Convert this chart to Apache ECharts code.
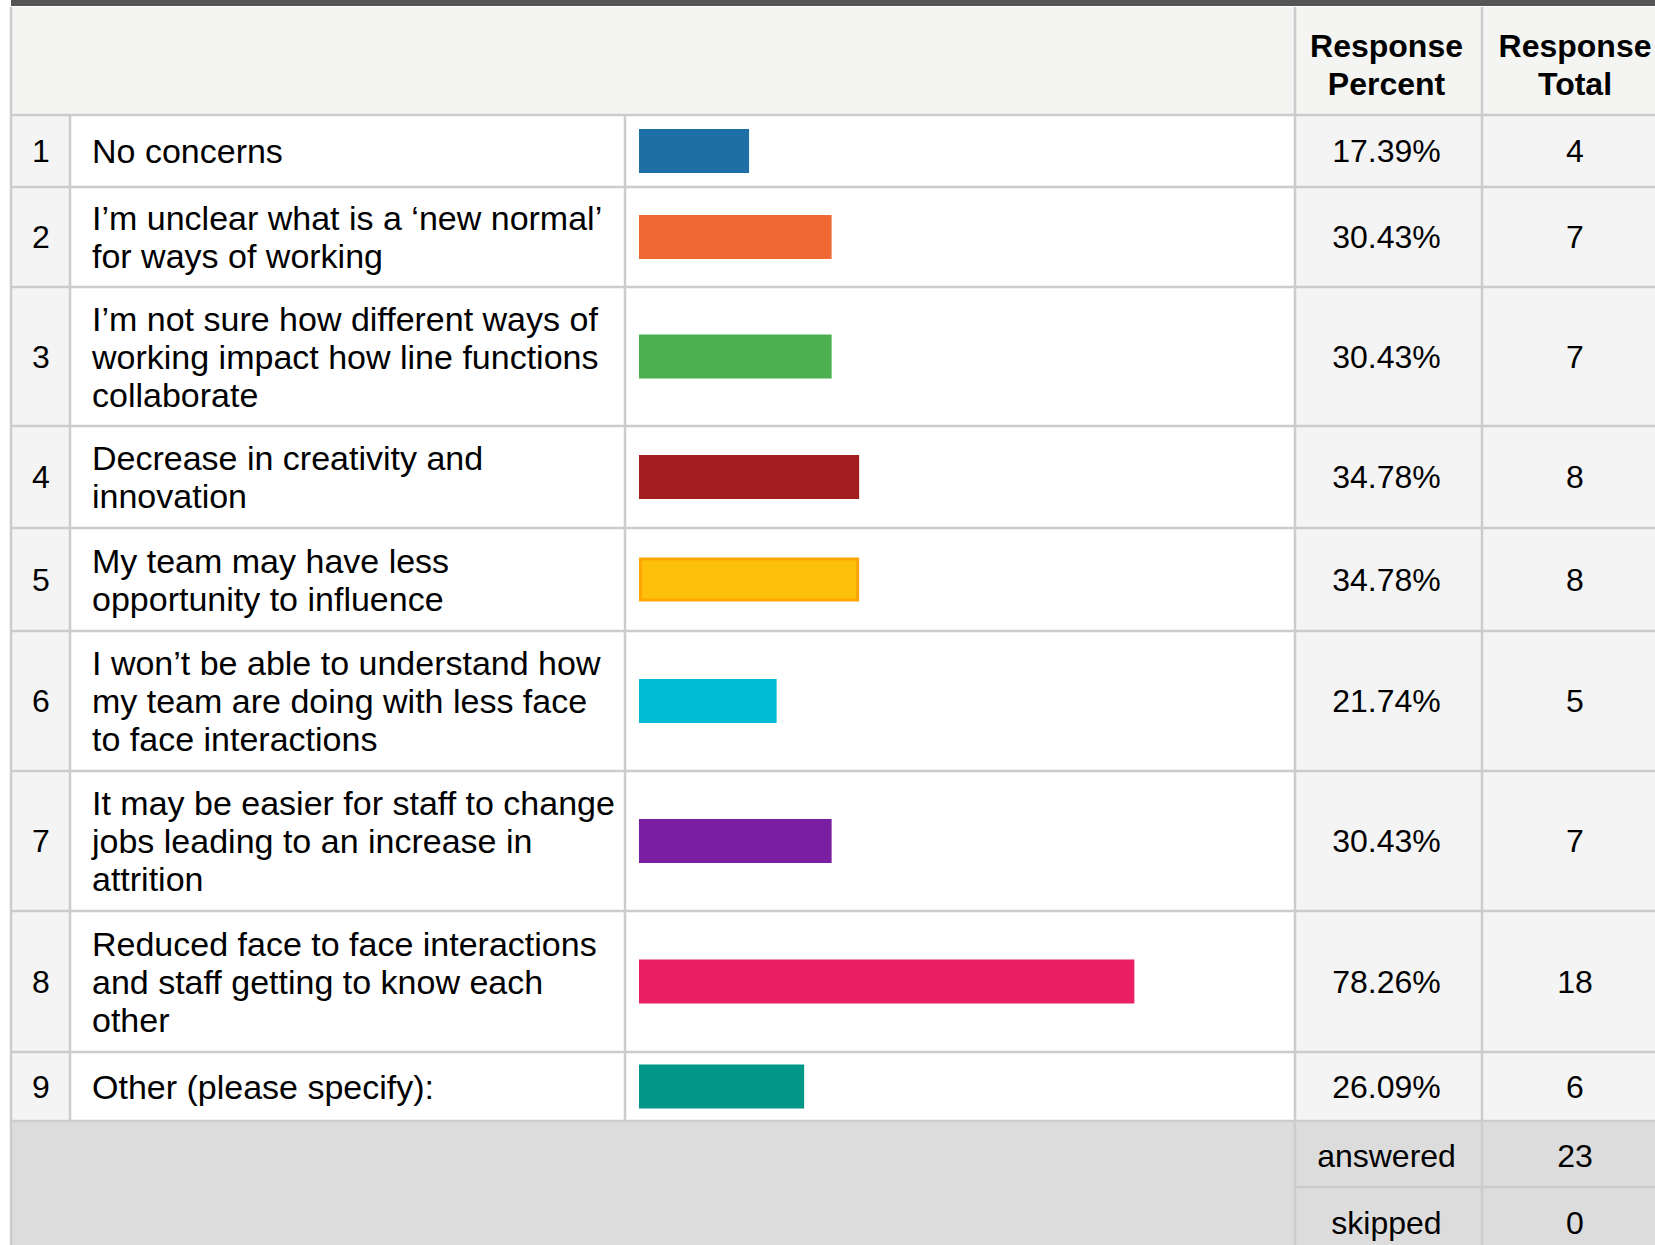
<!DOCTYPE html>
<html>
<head>
<meta charset="utf-8">
<script src="https://cdn.jsdelivr.net/npm/echarts@6/dist/echarts.min.js"></script>
<style>
html,body{margin:0;padding:0;background:#fff;}
#c{width:1655px;height:1245px;}
</style>
</head>
<body>
<div id="c"></div>
<script>
// ---------- data ----------
const categories = [
  "No concerns",
  "I’m unclear what is a ‘new normal’\nfor ways of working",
  "I’m not sure how different ways of\nworking impact how line functions\ncollaborate",
  "Decrease in creativity and\ninnovation",
  "My team may have less\nopportunity to influence",
  "I won’t be able to understand how\nmy team are doing with less face\nto face interactions",
  "It may be easier for staff to change\njobs leading to an increase in\nattrition",
  "Reduced face to face interactions\nand staff getting to know each\nother",
  "Other (please specify):"
];
const percents = [17.39, 30.43, 30.43, 34.78, 34.78, 21.74, 30.43, 78.26, 26.09];
const totals = [4, 7, 7, 8, 8, 5, 7, 18, 6];
const answered = 23;
const skipped = 0;
const headerPercent = "Response\nPercent";
const headerTotal = "Response\nTotal";
const footerLabels = ["answered", "skipped"];
const footerValues = [answered, skipped];

// ---------- style / layout ----------
const barColors = ["#1d6fa5", "#f06833", "#4caf50", "#a31c1f", "#fdc00a", "#00bcd4", "#7b1fa2", "#e91e63", "#009688"];
const barBorders = {4: "#ffa500"};
const colX = [12, 70, 625, 1295, 1482, 1668];
const rowY = [115, 187, 287, 426, 528, 631, 771, 911, 1052, 1121];
const footY = [1121, 1187, 1254];
const barLeft = 639, barSpan = 633, barH = 44;
const labelX = 92;
const FONT = '"Liberation Sans", Arial, Helvetica, sans-serif';
const LINE = "#cccccc";
const LW = 2.5;
const PAD = [4, 0, 0, 0];

const chart = echarts.init(document.getElementById("c"), null, {renderer: "svg", width: 1655, height: 1245});

const grid = [], xAxis = [], yAxis = [], series = [];
const barRight = barLeft + barSpan;
categories.forEach((cat, i) => {
  const cy = (rowY[i] + rowY[i + 1]) / 2;
  grid.push({left: barLeft, width: barSpan, top: cy - barH / 2, height: barH, containLabel: false, outerBoundsMode: "none"});
  xAxis.push({type: "value", gridIndex: i, min: 0, max: 100, show: false});
  const base = {type: "category", gridIndex: i, axisLine: {show: false}, axisTick: {show: false}, splitLine: {show: false}, z: 5};
  yAxis.push(Object.assign({}, base, {position: "left", data: [cat],
    axisLabel: {align: "left", margin: barLeft - labelX, fontSize: 34, lineHeight: 38, padding: PAD, color: "#000", fontFamily: FONT}}));
  yAxis.push(Object.assign({}, base, {position: "left", data: [String(i + 1)],
    axisLabel: {align: "center", margin: barLeft - (colX[0] + colX[1]) / 2, fontSize: 32, padding: PAD, color: "#000", fontFamily: FONT}}));
  yAxis.push(Object.assign({}, base, {position: "right", data: [percents[i].toFixed(2) + "%"],
    axisLabel: {align: "center", margin: (colX[3] + colX[4]) / 2 - 2 - barRight, fontSize: 32, padding: PAD, color: "#000", fontFamily: FONT}}));
  yAxis.push(Object.assign({}, base, {position: "right", data: [String(totals[i])],
    axisLabel: {align: "center", margin: (colX[4] + colX[5]) / 2 - barRight, fontSize: 32, padding: PAD, color: "#000", fontFamily: FONT}}));
  const itemStyle = {color: barColors[i]};
  if (barBorders[i]) { itemStyle.borderColor = barBorders[i]; itemStyle.borderWidth = 3; }
  series.push({type: "bar", xAxisIndex: i, yAxisIndex: 4 * i, data: [percents[i]], barWidth: barH, itemStyle, silent: true, z: 3});
});

// table structure
const g = [];
const W = 1700;
g.push({type: "rect", z: -20, shape: {x: 11, y: 0, width: W, height: 6}, style: {fill: "#555555"}});
g.push({type: "rect", z: -20, shape: {x: colX[0], y: 7, width: W, height: rowY[0] - 7}, style: {fill: "#f4f4f2"}});
g.push({type: "rect", z: -20, shape: {x: colX[0], y: rowY[0], width: colX[1] - colX[0], height: rowY[9] - rowY[0]}, style: {fill: "#f4f4f4"}});
g.push({type: "rect", z: -20, shape: {x: colX[3], y: rowY[0], width: W, height: rowY[9] - rowY[0]}, style: {fill: "#f4f4f4"}});
g.push({type: "rect", z: -20, shape: {x: 11, y: footY[0], width: W, height: 200}, style: {fill: "#dcdcdc"}});
rowY.forEach(y => g.push({type: "line", z: -10, shape: {x1: colX[0], y1: y, x2: W, y2: y}, style: {stroke: LINE, lineWidth: LW}}));
g.push({type: "line", z: -10, shape: {x1: colX[3], y1: footY[1], x2: W, y2: footY[1]}, style: {stroke: LINE, lineWidth: LW}});
g.push({type: "line", z: -10, shape: {x1: colX[0] - 1, y1: 7, x2: colX[0] - 1, y2: 1260}, style: {stroke: LINE, lineWidth: LW}});
[colX[1], colX[2]].forEach(x => g.push({type: "line", z: -10, shape: {x1: x, y1: rowY[0], x2: x, y2: rowY[9]}, style: {stroke: LINE, lineWidth: LW}}));
[colX[3], colX[4]].forEach(x => g.push({type: "line", z: -10, shape: {x1: x, y1: 7, x2: x, y2: 1260}, style: {stroke: LINE, lineWidth: LW}}));

// header text
[[headerPercent, (colX[3] + colX[4]) / 2 - 2], [headerTotal, (colX[4] + colX[5]) / 2]].forEach(([t, x]) => {
  g.push({type: "text", z: 10, x: x, y: 65, style: {text: t, fill: "#000", font: "bold 32px " + FONT,
    fontSize: 32, fontWeight: "bold", fontFamily: FONT, lineHeight: 38,
    textAlign: "center", textVerticalAlign: "middle", align: "center", verticalAlign: "middle"}});
});
// footer text
footerLabels.forEach((lab, k) => {
  const cy = (footY[k] + footY[k + 1]) / 2 + 2;
  g.push({type: "text", z: 10, x: (colX[3] + colX[4]) / 2 - 2, y: cy, style: {text: lab, fill: "#000", font: "32px " + FONT,
    fontSize: 32, fontFamily: FONT, textAlign: "center", textVerticalAlign: "middle", align: "center", verticalAlign: "middle"}});
  g.push({type: "text", z: 10, x: (colX[4] + colX[5]) / 2, y: cy, style: {text: String(footerValues[k]), fill: "#000", font: "32px " + FONT,
    fontSize: 32, fontFamily: FONT, textAlign: "center", textVerticalAlign: "middle", align: "center", verticalAlign: "middle"}});
});

chart.setOption({
  animation: false,
  backgroundColor: "#ffffff",
  textStyle: {fontFamily: FONT},
  grid, xAxis, yAxis, series,
  graphic: g
});
</script>
</body>
</html>
